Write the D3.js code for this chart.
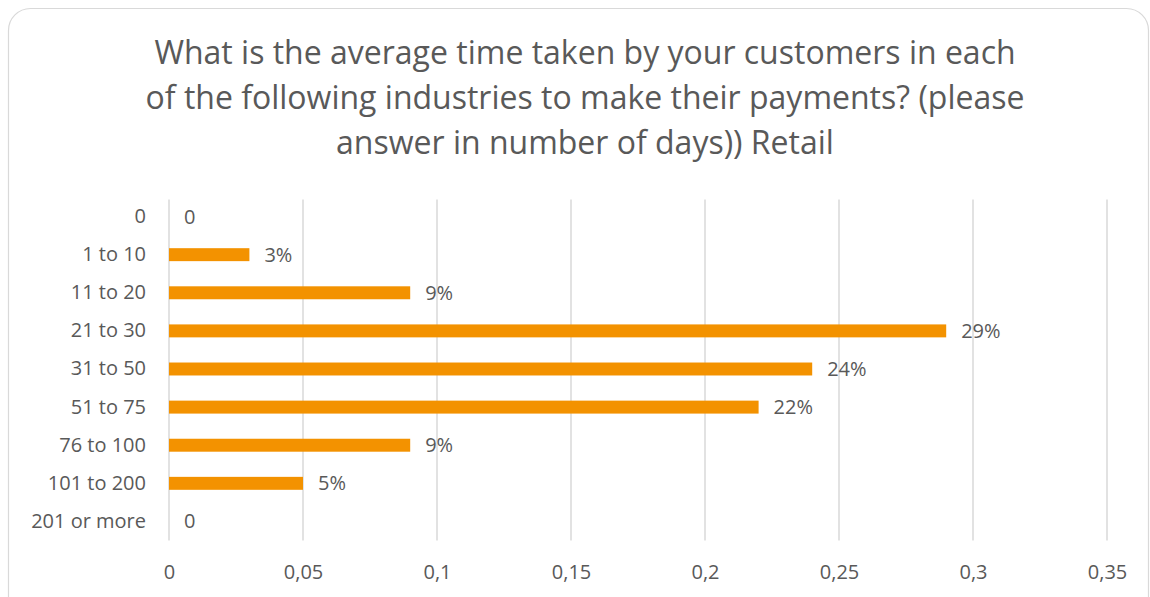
<!DOCTYPE html>
<html>
<head>
<meta charset="utf-8">
<script src="https://cdn.jsdelivr.net/npm/d3@7"></script>
<style>
  html, body { margin: 0; padding: 0; background: #fff; }
  svg { display: block; }
  text { font-family: "Open Sans", "Noto Sans", sans-serif; fill: #595959; }
</style>
</head>
<body>
<svg id="chart" width="1150" height="597"></svg>
<script>
// Response buckets (days) and share of customers in each
const categories = ["0", "1 to 10", "11 to 20", "21 to 30", "31 to 50", "51 to 75", "76 to 100", "101 to 200", "201 or more"];
const values = [0, 0.03, 0.09, 0.29, 0.24, 0.22, 0.09, 0.05, 0];
const valueLabels = ["0", "3%", "9%", "29%", "24%", "22%", "9%", "5%", "0"];
const tickValues = [0, 0.05, 0.1, 0.15, 0.2, 0.25, 0.3, 0.35];
const titleLines = [
  "What is the average time taken by your customers in each",
  "of the following industries to make their payments? (please",
  "answer in number of days)) Retail"
];

const svg = d3.select("#chart");
const W = 1150, H = 597;

// Chart frame
svg.append("rect")
  .attr("x", 8.5).attr("y", 8.5)
  .attr("width", W - 10).attr("height", H + 20)
  .attr("rx", 22).attr("ry", 22)
  .attr("fill", "#fff").attr("stroke", "#d9d9d9").attr("stroke-width", 1.2);

// Title
svg.append("g").selectAll("text")
  .data(titleLines)
  .join("text")
  .attr("x", 585)
  .attr("y", (d, i) => 64 + i * 45)
  .attr("text-anchor", "middle")
  .attr("font-size", 32)
  .text(d => d);

const margin = { left: 169, right: 1107, top: 197.5, bottom: 540.5 };

const x = d3.scaleLinear().domain([0, 0.35]).range([margin.left, margin.right]);
const y = d3.scaleBand().domain(categories).range([margin.top, margin.bottom]).paddingInner(0.66).paddingOuter(0.33);

// Vertical gridlines
svg.append("g").selectAll("line")
  .data(tickValues)
  .join("line")
  .attr("x1", d => x(d)).attr("x2", d => x(d))
  .attr("y1", margin.top + 2).attr("y2", margin.bottom)
  .attr("stroke", "#d9d9d9").attr("stroke-width", 1.5);

// X axis labels (comma decimal separator)
const fmt = d => d === 0 ? "0" : String(+d.toFixed(2)).replace(".", ",");
const xAxis = d3.axisBottom(x).tickValues(tickValues).tickFormat(fmt).tickSize(0).tickPadding(0);
const gx = svg.append("g").attr("transform", `translate(0, ${margin.bottom + 24})`).call(xAxis);
gx.select(".domain").remove();
gx.selectAll("text").attr("font-size", 20).attr("fill", "#595959").attr("dy", "0.71em");

// Y axis labels
const yAxis = d3.axisLeft(y).tickSize(0).tickPadding(0);
const gy = svg.append("g").attr("transform", `translate(${margin.left - 23}, 0)`).call(yAxis);
gy.select(".domain").remove();
gy.selectAll("text").attr("font-size", 20).attr("fill", "#595959");

// Bars
const data = categories.map((c, i) => ({ c, v: values[i], label: valueLabels[i] }));
svg.append("g").selectAll("rect")
  .data(data)
  .join("rect")
  .attr("x", x(0))
  .attr("y", d => y(d.c))
  .attr("width", d => x(d.v) - x(0))
  .attr("height", y.bandwidth())
  .attr("fill", "#f39200");

// Value labels
svg.append("g").selectAll("text")
  .data(data)
  .join("text")
  .attr("x", d => x(d.v) + 15)
  .attr("y", d => y(d.c) + y.bandwidth() / 2)
  .attr("dy", "0.35em")
  .attr("font-size", 20)
  .text(d => d.label);
</script>
</body>
</html>
